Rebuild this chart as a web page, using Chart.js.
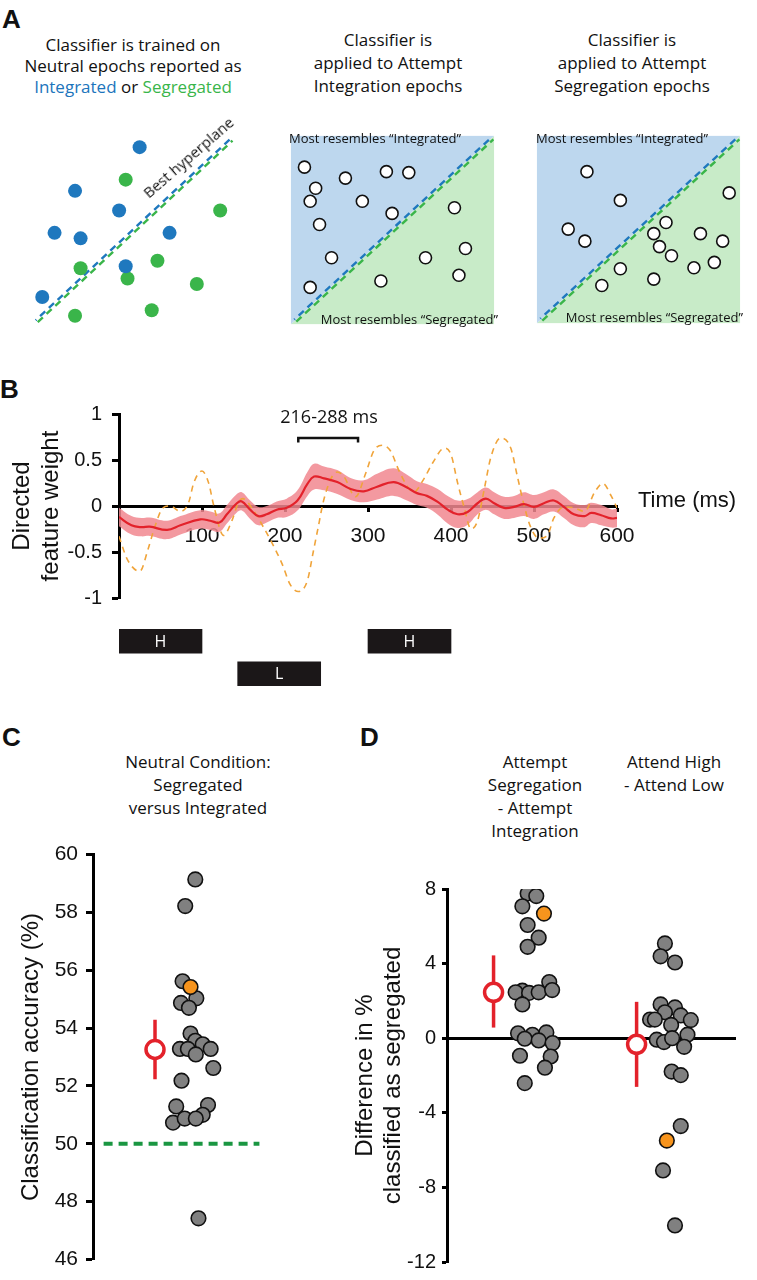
<!DOCTYPE html>
<html lang="en">
<head>
<meta charset="UTF-8">
<title>Classifier figure</title>
<script src="https://cdn.jsdelivr.net/npm/chart.js@4"></script>
<style>
  body { margin: 0; background: #fff; }
  #fig { position: relative; width: 757px; height: 1280px; overflow: hidden; background: #fff; font-family: 'Open Sans', sans-serif; color: #111; }
  #fig canvas, #fig .t { position: absolute; }
  .t { white-space: nowrap; }
  .letter { font-family: 'Liberation Sans', Arial, sans-serif; font-weight: bold; font-size: 26px; line-height: 26px; }
  .head { font-size: 17px; text-align: center; width: 300px; }
  .box { font-size: 13px; line-height: 16px; }
  .blue { color: #1c75bc; }
  .green { color: #39b54a; }
</style>
</head>
<body>
<div id="fig">
  <div class="t letter" style="left:2px;top:6px">A</div>
  <div class="t head" style="left:-17px;top:34px;line-height:21px">Classifier is trained on<br>Neutral epochs reported as<br><span class="blue">Integrated</span> or <span class="green">Segregated</span></div>
  <div class="t head" style="left:238px;top:28px;line-height:23px">Classifier is<br>applied to Attempt<br>Integration epochs</div>
  <div class="t head" style="left:482px;top:28px;line-height:23px">Classifier is<br>applied to Attempt<br>Segregation epochs</div>

  <canvas id="a1" width="219" height="204" style="left:25px;top:128px"></canvas>
  <canvas id="a2" width="219" height="204" style="left:283px;top:128px"></canvas>
  <canvas id="a3" width="219" height="203" style="left:529px;top:128px"></canvas>

  <div class="t" style="left:188px;top:157px;font-size:15px;transform:translate(-50%,-50%) rotate(-41deg)">Best hyperplane</div>
  <div class="t box" style="left:289px;top:130px">Most resembles “Integrated”</div>
  <div class="t box" style="right:259px;top:311px">Most resembles “Segregated”</div>
  <div class="t box" style="left:536px;top:130px">Most resembles “Integrated”</div>
  <div class="t box" style="right:14px;top:309px">Most resembles “Segregated”</div>

  <div class="t letter" style="left:0px;top:376px">B</div>
  <canvas id="cB" width="757" height="240" style="left:0px;top:392px"></canvas>
  <canvas id="cTones" width="498" height="65" style="left:119px;top:625px"></canvas>
  <div class="t" style="left:329px;top:406px;font-size:18px;line-height:20px;transform:translateX(-50%)">216-288 ms</div>
  <div class="t" style="left:638px;top:487px;font-family:'Liberation Sans',Arial,sans-serif;font-size:22px;line-height:26px">Time (ms)</div>

  <div class="t letter" style="left:2px;top:724px">C</div>
  <div class="t head" style="left:48px;top:750px;line-height:23px">Neutral Condition:<br>Segregated<br>versus Integrated</div>
  <canvas id="cC" width="330" height="446" style="left:0px;top:834px"></canvas>

  <div class="t letter" style="left:360px;top:724px">D</div>
  <div class="t head" style="left:385px;top:750px;line-height:23px">Attempt<br>Segregation<br>- Attempt<br>Integration</div>
  <div class="t head" style="left:524px;top:750px;line-height:23px">Attend High<br>- Attend Low</div>
  <canvas id="cD" width="427" height="409" style="left:330px;top:871px"></canvas>
</div>

<script>
// ---- A: feature space (arbitrary units, 0-100) ----
const trainIntX = [52.5, 21.0, 42.5, 11.0, 23.7, 67.1, 45.7, 5.0];
const trainIntY = [93.6, 70.6, 60.3, 48.5, 45.6, 48.5, 30.9, 14.7];
const trainSegX = [45.7, 91.8, 23.7, 61.2, 46.6, 80.4, 58.4, 21.0];
const trainSegY = [76.5, 60.3, 29.9, 33.8, 24.5, 21.6, 7.8, 4.9];
const attIntX = [6.8, 12.3, 9.6, 26.9, 47.0, 58.0, 35.2, 49.8, 14.2, 80.4, 85.8, 20.1, 66.2, 82.6, 9.6, 44.3];
const attIntY = [83.3, 72.1, 65.2, 77.5, 80.9, 80.4, 65.2, 58.8, 52.9, 61.8, 40.2, 35.3, 35.3, 26.0, 19.6, 23.0];
const attSegX = [24.7, 41.1, 94.5, 15.5, 23.7, 63.5, 57.5, 60.3, 66.2, 80.4, 91.3, 77.2, 87.2, 41.1, 32.0, 57.5];
const attSegY = [80.8, 65.5, 69.5, 50.2, 43.8, 53.7, 47.8, 40.9, 36.0, 47.8, 43.8, 29.6, 32.5, 29.1, 20.2, 23.6];
const planeTrain = [[2.3, 2.0], [97.3, 97.5]];
const planeApplied = [[2.3, 2.0], [99.0, 98.5]];

// ---- B: directed feature weight over time ----
const meanMs = [0, 15, 27, 37, 58, 74, 98, 110, 121, 130, 142, 148, 158, 168, 178, 190, 202, 215, 227, 235, 247, 263, 279, 295, 311, 331, 347, 359, 371, 384, 396, 408, 420, 432, 442, 452, 464, 476, 488, 500, 512, 524, 536, 548, 561, 569, 581, 593, 600];
const meanW = [-0.12, -0.21, -0.23, -0.225, -0.26, -0.21, -0.145, -0.16, -0.18, -0.09, 0.03, 0.05, -0.04, -0.11, -0.09, -0.04, -0.02, 0.06, 0.24, 0.32, 0.30, 0.26, 0.185, 0.16, 0.21, 0.26, 0.20, 0.14, 0.11, 0.045, -0.04, -0.09, -0.065, 0.03, 0.08, 0.03, -0.02, -0.01, 0.02, -0.01, 0.03, 0.06, -0.01, -0.09, -0.11, -0.075, -0.10, -0.135, -0.13];
const semW = [0.1, 0.1, 0.1, 0.1, 0.1, 0.1, 0.1, 0.1, 0.1, 0.1, 0.1, 0.1, 0.1, 0.1, 0.09, 0.09, 0.1, 0.11, 0.13, 0.14, 0.13, 0.13, 0.12, 0.12, 0.14, 0.15, 0.14, 0.13, 0.13, 0.14, 0.15, 0.15, 0.14, 0.12, 0.12, 0.12, 0.12, 0.12, 0.13, 0.13, 0.12, 0.12, 0.12, 0.12, 0.12, 0.11, 0.11, 0.1, 0.1];
const dashMs = [0, 10, 25, 35, 43, 53, 62, 74, 84, 90, 100, 108, 114, 126, 136, 144, 149, 160, 174, 186, 197, 206, 216, 227, 234, 240, 246, 255, 263, 271, 285, 297, 307, 317, 327, 337, 347, 355, 367, 378, 392, 400, 408, 416, 424, 432, 440, 448, 460, 472, 480, 488, 496, 506, 516, 524, 536, 548, 561, 573, 583, 593, 600];
const dashW = [-0.33, -0.58, -0.71, -0.47, -0.23, -0.02, 0.0, -0.06, 0.04, 0.25, 0.38, 0.25, 0.01, -0.32, -0.16, 0.04, 0.08, -0.02, -0.23, -0.43, -0.64, -0.85, -0.93, -0.81, -0.5, -0.23, 0.04, 0.29, 0.37, 0.32, 0.1, 0.35, 0.6, 0.66, 0.6, 0.39, 0.22, 0.15, 0.29, 0.47, 0.63, 0.56, 0.25, -0.02, -0.25, -0.16, 0.18, 0.53, 0.74, 0.63, 0.32, 0.01, -0.23, -0.35, -0.32, -0.13, -0.01, -0.02, -0.06, 0.15, 0.245, 0.11, -0.02];
const windowMs = [216, 288];
const windowLevel = 0.74;
const toneName = ['H', 'L', 'H'];
const toneRow = ['high', 'low', 'high'];
const toneStart = [0, 143, 300];
const toneEnd = [100, 243, 400];

// ---- C: classification accuracy (%) per participant ----
const accVal = [59.14, 58.22, 55.62, 55.42, 55.03, 54.87, 54.70, 53.81, 53.56, 53.44, 53.28, 53.28, 53.28, 53.09, 52.62, 52.18, 51.29, 51.34, 51.00, 50.73, 50.87, 50.87, 47.42];
const accPos = [1.93, 1.74, 1.69, 1.84, 1.95, 1.66, 1.81, 1.84, 1.93, 2.07, 1.64, 1.79, 2.22, 1.94, 2.27, 1.67, 1.57, 2.17, 2.07, 1.51, 1.73, 1.94, 1.99];
const accHighlight = 3;
const accMean = 53.26;
const accCI = [52.23, 54.29];
const accMeanPos = 1.17;
const chanceLevel = 50;
const chanceSpan = [0.2, 3.14];

// ---- D: difference in % classified as segregated ----
const attDiff = [7.76, 7.62, 7.07, 6.68, 6.07, 5.39, 4.90, 3.01, 2.55, 2.46, 2.43, 2.46, 2.58, 1.81, 0.26, 0.18, 0.31, -0.03, -0.12, -0.26, -0.94, -0.98, -1.58, -2.41];
const attPos = [1.68, 1.86, 1.57, 2.02, 1.68, 1.91, 1.68, 2.13, 1.57, 1.43, 1.71, 1.91, 2.19, 1.57, 1.48, 1.78, 2.07, 1.62, 1.91, 2.20, 1.52, 2.16, 2.04, 1.62];
const attHighlight = 3;
const attMean = 2.46;
const attCI = [0.57, 4.44];
const attMeanPos = 0.97;
const focDiff = [5.08, 4.39, 4.06, 1.81, 1.65, 1.39, 1.00, 1.00, 1.22, 0.97, 0.71, 0.19, -0.08, -0.21, 0.00, -0.46, -1.79, -1.98, -4.71, -5.49, -7.09, -10.04];
const focPos = [4.54, 4.45, 4.75, 4.45, 4.75, 4.54, 4.23, 4.33, 4.87, 5.08, 4.67, 5.01, 4.37, 4.52, 4.69, 4.94, 4.68, 4.87, 4.87, 4.58, 4.50, 4.75];
const focHighlight = 19;
const focMean = -0.33;
const focCI = [-2.61, 1.95];
const focMeanPos = 3.95;

// colours
const BLUE = '#1f78be', GREEN = '#3ab54a';
const BLUE_BG = '#bdd7ee', GREEN_BG = '#c8ebc8';
const RED = '#e3222b', GREY = '#808080', ORANGE = '#f7941d';

Chart.defaults.font.family = "'Liberation Sans', Arial, sans-serif";
Chart.defaults.color = '#111';
Chart.defaults.animation = false;
Chart.defaults.events = [];
Chart.defaults.plugins.legend.display = false;
Chart.defaults.plugins.tooltip.enabled = false;

const pts = (xs, ys) => xs.map((x, i) => ({ x: x, y: ys[i] }));
const seg = p => p.map(q => ({ x: q[0], y: q[1] }));
const shift = (p, dx, dy) => p.map(q => ({ x: q[0] + dx, y: q[1] + dy }));
const plainTick = v => String(+v.toFixed(2));

function hyperplaneSets(plane) {
  return [
    { data: shift(plane, -0.5, 0.5), showLine: true, borderColor: BLUE, borderWidth: 2.4, borderDash: [7, 5], borderDashOffset: 6, pointRadius: 0, order: 5 },
    { data: shift(plane, 0.5, -0.5), showLine: true, borderColor: GREEN, borderWidth: 2.4, borderDash: [7, 5], pointRadius: 0, order: 6 }
  ];
}

function featureChart(id, datasets) {
  new Chart(document.getElementById(id), {
    type: 'scatter',
    data: { datasets: datasets },
    options: {
      responsive: false,
      layout: { padding: 0 },
      scales: {
        x: { type: 'linear', display: false, min: 0, max: 100 },
        y: { type: 'linear', display: false, min: 0, max: 100 }
      }
    }
  });
}

// A, left: training data
featureChart('a1', [
  { data: pts(trainIntX, trainIntY), pointRadius: 7, backgroundColor: BLUE, borderWidth: 0, clip: false, order: 1 },
  { data: pts(trainSegX, trainSegY), pointRadius: 7, backgroundColor: GREEN, borderWidth: 0, clip: false, order: 2 },
  ...hyperplaneSets(planeTrain)
]);

// A, middle and right: classifier applied
function appliedSets(xs, ys) {
  const corner = [[0, 0], [100, 100]];
  return [
    { data: pts(xs, ys), pointRadius: 6, backgroundColor: '#fff', borderColor: '#111', borderWidth: 1.6, order: 1 },
    ...hyperplaneSets(planeApplied),
    { data: seg(corner), showLine: true, borderWidth: 0, pointRadius: 0, fill: 'end', backgroundColor: BLUE_BG, order: 8 },
    { data: seg(corner), showLine: true, borderWidth: 0, pointRadius: 0, fill: 'start', backgroundColor: GREEN_BG, order: 9 }
  ];
}
featureChart('a2', appliedSets(attIntX, attIntY));
featureChart('a3', appliedSets(attSegX, attSegY));

// B: weights over time
const upperW = meanW.map((v, i) => ({ x: meanMs[i], y: v + semW[i] }));
const lowerW = meanW.map((v, i) => ({ x: meanMs[i], y: v - semW[i] }));
const bracket = [
  { x: windowMs[0], y: windowLevel - 0.05 }, { x: windowMs[0], y: windowLevel },
  { x: windowMs[1], y: windowLevel }, { x: windowMs[1], y: windowLevel - 0.05 }
];

new Chart(document.getElementById('cB'), {
  type: 'line',
  data: {
    datasets: [
      { data: bracket, borderColor: '#111', borderWidth: 2.5, pointRadius: 0, tension: 0, order: 0 },
      { data: pts(meanMs, meanW), borderColor: RED, borderWidth: 2.2, pointRadius: 0, tension: 0.4, order: 1 },
      { data: pts(dashMs, dashW), borderColor: '#f0a43a', borderWidth: 1.6, borderDash: [6, 5], pointRadius: 0, cubicInterpolationMode: 'monotone', order: 2 },
      { data: upperW, borderWidth: 0, pointRadius: 0, tension: 0.4, fill: false, order: 3 },
      { data: lowerW, borderWidth: 0, pointRadius: 0, tension: 0.4, fill: '-1', backgroundColor: 'rgba(241,135,143,0.85)', order: 4 }
    ]
  },
  options: {
    responsive: false,
    layout: { padding: { left: 0, top: 12, right: 140, bottom: 34 } },
    scales: {
      x: {
        type: 'linear', min: 0, max: 600, position: { y: 0 }, z: 1,
        border: { color: '#000', width: 3 },
        grid: { drawOnChartArea: false, tickLength: 4, tickWidth: 3, tickColor: '#000' },
        ticks: { stepSize: 100, padding: 14, font: { size: 21 }, color: '#111', callback: v => (v === 0 ? '' : plainTick(v)) },
        afterFit: s => { s.height = 0; }
      },
      y: {
        type: 'linear', min: -1, max: 1, z: 1,
        border: { color: '#000', width: 3 },
        grid: { drawOnChartArea: false, tickLength: 7, tickWidth: 3, tickColor: '#000' },
        ticks: { stepSize: 0.5, padding: 10, font: { size: 20 }, color: '#111', callback: plainTick },
        title: { display: true, text: ['Directed', 'feature weight'], font: { size: 24, lineHeight: 1.2 }, padding: { top: 8, bottom: 0 }, color: '#111' },
        afterFit: s => { s.width = 119; }
      }
    }
  }
});

// B: tone sequence under the time axis
const toneLabels = {
  id: 'toneLabels',
  afterDatasetsDraw(chart) {
    const ctx = chart.ctx;
    ctx.save();
    ctx.fillStyle = '#fff';
    ctx.font = "16px 'Open Sans', sans-serif";
    ctx.textAlign = 'center';
    ctx.textBaseline = 'middle';
    chart.data.datasets.forEach((ds, i) => {
      chart.getDatasetMeta(i).data.forEach((bar, j) => {
        if (!ds.data[j]) return;
        const p = bar.getProps(['x', 'y', 'base'], true);
        ctx.fillText(ds.label, (p.x + p.base) / 2, p.y + 1);
      });
    });
    ctx.restore();
  }
};
const toneRows = ['high', 'low'];
new Chart(document.getElementById('cTones'), {
  type: 'bar',
  data: {
    labels: toneRows,
    datasets: toneName.map((name, i) => ({
      label: name,
      data: toneRows.map(r => (r === toneRow[i] ? [toneStart[i], toneEnd[i]] : null)),
      backgroundColor: '#1b1718',
      barThickness: 24,
      grouped: false
    }))
  },
  options: {
    indexAxis: 'y',
    responsive: false,
    layout: { padding: 0 },
    scales: {
      x: { type: 'linear', min: 0, max: 600, display: false },
      y: { type: 'category', display: false }
    }
  },
  plugins: [toneLabels]
});

// C and D: participant dots with mean +/- error
function dotSets(vals, pos, highlight, mean, ci, meanPos) {
  const grey = [], hi = [];
  vals.forEach((v, i) => (i === highlight ? hi : grey).push({ x: pos[i], y: v }));
  return [
    { data: hi, pointRadius: 7.3, backgroundColor: ORANGE, borderColor: '#111', borderWidth: 1.6, order: 0 },
    { data: grey, pointRadius: 7.3, backgroundColor: GREY, borderColor: '#111', borderWidth: 1.6, order: 1 },
    { data: [{ x: meanPos, y: mean }], pointRadius: 9, backgroundColor: '#fff', borderColor: RED, borderWidth: 3.5, order: 2 },
    { data: [{ x: meanPos, y: ci[0] }, { x: meanPos, y: ci[1] }], showLine: true, borderColor: RED, borderWidth: 3.5, pointRadius: 0, order: 3 }
  ];
}

function yAxis(min, max, step, title, fontSize, titleOffset, width, tickLen, tickPad) {
  return {
    type: 'linear', min: min, max: max,
    border: { color: '#000', width: 3 },
    grid: { drawOnChartArea: false, tickLength: tickLen, tickWidth: 3, tickColor: '#000' },
    ticks: { stepSize: step, padding: tickPad, font: { size: fontSize }, color: '#111', callback: plainTick },
    title: { display: true, text: title, font: { size: 24, lineHeight: 1.17 }, padding: { top: titleOffset, bottom: 0 }, color: '#111' },
    afterFit: s => { s.width = width; }
  };
}

new Chart(document.getElementById('cC'), {
  type: 'scatter',
  data: {
    datasets: [
      ...dotSets(accVal, accPos, accHighlight, accMean, accCI, accMeanPos),
      { data: [{ x: chanceSpan[0], y: chanceLevel }, { x: chanceSpan[1], y: chanceLevel }], showLine: true, borderColor: '#1a9641', borderWidth: 4, borderDash: [9, 6], pointRadius: 0, order: 4 }
    ]
  },
  options: {
    responsive: false,
    layout: { padding: { left: 0, top: 12, right: 25, bottom: 14 } },
    scales: {
      x: { type: 'linear', display: false, min: 0, max: 4 },
      y: yAxis(46, 60, 2, 'Classification accuracy (%)', 21, 17, 93, 7, 8)
    }
  }
});

new Chart(document.getElementById('cD'), {
  type: 'scatter',
  data: {
    datasets: [
      ...dotSets(attDiff, attPos, attHighlight, attMean, attCI, attMeanPos),
      ...dotSets(focDiff, focPos, focHighlight, focMean, focCI, focMeanPos)
    ]
  },
  options: {
    responsive: false,
    layout: { padding: { left: 0, top: 12, right: 22, bottom: 10 } },
    scales: {
      x: {
        type: 'linear', min: 0, max: 6, position: { y: 0 },
        border: { color: '#000', width: 3 },
        grid: { display: false },
        ticks: { display: false },
        afterFit: s => { s.height = 0; }
      },
      y: yAxis(-12, 8, 4, ['Difference in %', 'classified as segregated'], 20, 21, 117, 5, 6)
    }
  }
});
</script>
</body>
</html>
